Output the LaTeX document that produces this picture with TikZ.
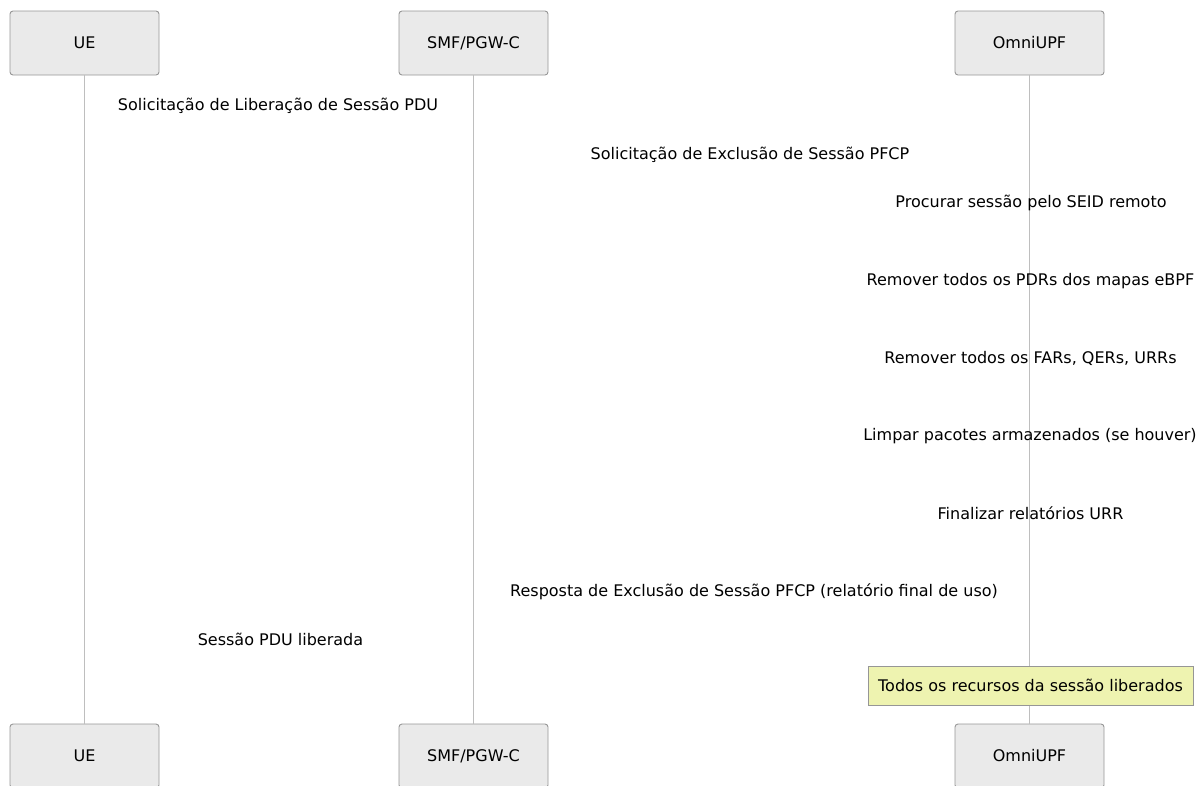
\documentclass[tikz,border=0pt]{standalone}
\usepackage{fontspec}
\setmainfont{DejaVu Sans}
\definecolor{actfill}{RGB}{234,234,234}
\definecolor{actdraw}{RGB}{150,150,150}
\definecolor{lifeline}{RGB}{190,190,190}
\definecolor{notefill}{RGB}{238,243,176}
\definecolor{notedraw}{RGB}{150,150,150}
\begin{document}
\begin{tikzpicture}[x=1pt,y=-1pt,
  actor/.style={draw=actdraw,fill=actfill,rounded corners=3pt,minimum width=149pt,minimum height=64pt,inner sep=0pt,font=\fontsize{16}{19}\selectfont,line width=0.9pt},
  msg/.style={inner sep=0pt,font=\fontsize{16}{19}\selectfont},
  notebox/.style={draw=notedraw,fill=notefill,minimum width=325pt,minimum height=39pt,inner sep=0pt,font=\fontsize{16}{19}\selectfont,line width=0.8pt},
  life/.style={draw=lifeline,line width=1pt}]
\useasboundingbox (0,0) rectangle (1201,785);
\begin{scope}
\clip (0,0) rectangle (1201,785);
\node[actor] (ue) at (84.5,43) {UE};
\node[actor] (smf) at (473.5,43) {SMF/PGW-C};
\node[actor] (upf) at (1029.5,43) {OmniUPF};
\node[actor] (ueb) at (84.5,756) {UE};
\node[actor] (smfb) at (473.5,756) {SMF/PGW-C};
\node[actor] (upfb) at (1029.5,756) {OmniUPF};
\draw[life] (ue.south) -- (ueb.north);
\draw[life] (smf.south) -- (smfb.north);
\draw[life] (upf.south) -- (upfb.north);
\node[notebox] (note) at (1030.5,685.5) {Todos os recursos da sessão liberados};
\node[msg] (m1) at (278,105.5) {Solicitação de Liberação de Sessão PDU};
\node[msg] (m2) at (750,154.5) {Solicitação de Exclusão de Sessão PFCP};
\node[msg] (m3) at (1031,202.5) {Procurar sessão pelo SEID remoto};
\node[msg] (m4) at (1030.5,281.5) {Remover todos os PDRs dos mapas eBPF};
\node[msg] (m5) at (1030.5,358.5) {Remover todos os FARs, QERs, URRs};
\node[msg] (m6) at (1030,436.5) {Limpar pacotes armazenados (se houver)};
\node[msg] (m7) at (1030.5,513.5) {Finalizar relatórios URR};
\node[msg] (m8) at (754,591.5) {Resposta de Exclusão de Sessão PFCP (relatório final de uso)};
\node[msg] (m9) at (280.5,639.5) {Sessão PDU liberada};
\end{scope}
\end{tikzpicture}
\end{document}
